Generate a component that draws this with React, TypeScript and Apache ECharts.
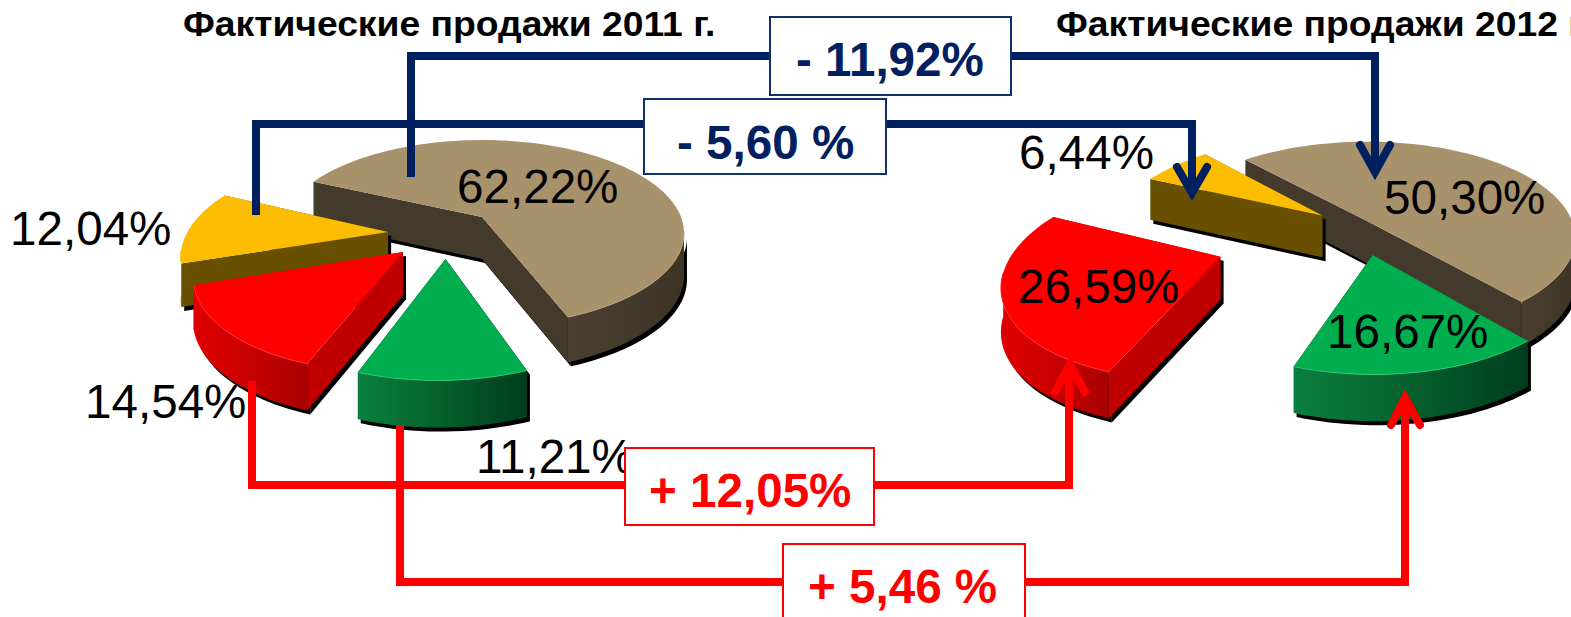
import React, { useEffect, useRef } from "react";
import * as echarts from "echarts";

const sliceNames = ["Бежевый", "Зелёный", "Красный", "Жёлтый"];
const values2011 = [62.22, 11.21, 14.54, 12.04];
const values2012 = [50.3, 16.67, 26.59, 6.44];
const titles = ["Фактические продажи 2011 г.", "Фактические продажи 2012 г."];
const deltaLabels = ["- 11,92%", "- 5,60 %", "+ 12,05%", "+ 5,46 %"];

const FONT = '"Liberation Sans", Arial, sans-serif';
const NAVY = "#002060";
const RED = "#ff0000";

const palette = [
  { top: "#a8926c", rim: "#b8a27c", side: "#443a2c", wall: ["#4a3f30", "#443a2c", "#3e3426"] },
  { top: "#00ae4f", rim: "#2cc873", side: "#004a26", wall: ["#0a7f40", "#05602c", "#003d1e"] },
  { top: "#ff0000", rim: "#ff3030", side: "#c00000", wall: ["#e00000", "#c80000", "#a80000"] },
  { top: "#fcbd00", rim: "#fcc000", side: "#695000", wall: ["#6b5200", "#695000", "#655000"] },
];

const DEPTH = 42;
const K = 0.172;

const pieLeft = {
  cx: 482, cy: 217, rx: 199, ry: 90.2, start: -65.2,
  offsets: [[0, 0], [-0.17, 0.431], [-0.372, 0.364], [-0.459, 0.162]],
  rank: [0, 3, 2, 1],
  radius: [1, 0.95, 0.96, 0.98],
};
const pieRight = {
  cx: 1367, cy: 221, rx: 205, ry: 93, start: -42,
  offsets: [[0, 0], [0.026, 0.345], [-0.671, 0.36], [-0.22, -0.06]],
  rank: [0, 2, 3, 1],
  radius: [1, 0.94, 0.96, 1.02],
};

function pieSeries(values: number[], cfg: typeof pieLeft) {
  const total = values.reduce((a, b) => a + b, 0);
  return {
    type: "custom",
    coordinateSystem: "none",
    silent: true,
    data: values.map((v, i) => ({ name: sliceNames[i], value: [v] })),
    renderItem: (params: any, api: any) => {
      const i = params.dataIndex;
      const before = values.slice(0, i).reduce((a, b) => a + b, 0);
      const a0 = cfg.start + (before / total) * 360;
      const a1 = a0 + (api.value(0) / total) * 360;
      const [ox, oz] = cfg.offsets[i];
      const r = cfg.radius[i];
      const col = palette[i];
      const base = cfg.rank[i] * 10;

      const proj = (u: number, v: number, lower = false) => {
        const s = 1 / (1 - K * v);
        return [
          cfg.cx + cfg.rx * u * s,
          cfg.cy + cfg.ry * v * s + (lower ? DEPTH * (0.6 + 0.4 * s) : 0),
        ];
      };
      const at = (deg: number, lower = false) => {
        const t = (deg * Math.PI) / 180;
        return proj(ox + r * Math.sin(t), oz - r * Math.cos(t), lower);
      };
      const apex = proj(ox, oz);
      const apexLow = proj(ox, oz, true);

      const angles: number[] = [];
      for (let d = a0; d < a1; d += 2) angles.push(d);
      angles.push(a1);

      const front = angles.filter((d) => -Math.cos((d * Math.PI) / 180) >= K - 0.02);
      const radialA = [apex, at(a0), at(a0, true), apexLow];
      const radialB = [apex, at(a1), at(a1, true), apexLow];
      const outer = front.length > 1
        ? [...front.map((d) => at(d)), ...front.slice().reverse().map((d) => at(d, true))]
        : null;

      const wall = new echarts.graphic.LinearGradient(0, 0, 1, 0, [
        { offset: 0, color: col.wall[0] },
        { offset: 0.5, color: col.wall[1] },
        { offset: 1, color: col.wall[2] },
      ]);

      const children: any[] = [];
      const shadowFaces = outer ? [radialA, radialB, outer] : [radialA, radialB];
      shadowFaces.forEach((pts) => {
        children.push({
          type: "polygon", x: 3, y: 4, z2: base,
          shape: { points: pts }, style: { fill: "#000000" },
        });
      });
      children.push({ type: "polygon", z2: base + 1, shape: { points: radialA }, style: { fill: col.side } });
      children.push({ type: "polygon", z2: base + 1, shape: { points: radialB }, style: { fill: col.side } });
      if (outer) {
        children.push({ type: "polygon", z2: base + 2, shape: { points: outer }, style: { fill: wall } });
      }
      children.push({
        type: "polygon", z2: base + 3,
        shape: { points: [apex, ...angles.map((d) => at(d))] },
        style: { fill: col.top },
      });
      if (front.length > 1) {
        children.push({
          type: "polyline", z2: base + 4,
          shape: { points: front.map((d) => at(d)) },
          style: { fill: "none", stroke: col.rim, lineWidth: 1 },
        });
      }
      return { type: "group", children };
    },
  };
}

const pct = (v: number) => v.toFixed(2).replace(".", ",") + "%";

function buildGraphic() {
  const g: any[] = [];
  const label = (text: string, x: number, y: number) =>
    g.push({
      type: "text", z: 10, x, y,
      style: { text, fill: "#000", font: `47.6px ${FONT}`, textAlign: "left", textVerticalAlign: "middle" },
    });
  label(pct(values2011[0]), 457, 186);
  label(pct(values2011[3]), 10, 228);
  label(pct(values2011[2]), 85, 401);
  label(pct(values2011[1]), 476, 456);
  label(pct(values2012[3]), 1019, 152);
  label(pct(values2012[0]), 1384, 197);
  label(pct(values2012[2]), 1018, 286);
  label(pct(values2012[1]), 1327, 331);

  titles.forEach((text, i) =>
    g.push({
      type: "text", z: 11, x: i === 0 ? 183 : 1056, y: 24, scaleX: 1.05,
      style: { text, fill: "#000", font: `bold 35.5px ${FONT}`, textAlign: "left", textVerticalAlign: "middle" },
    })
  );

  const line = (points: number[][], stroke: string, lineWidth = 8, cap: string = "butt") =>
    g.push({
      type: "polyline", z: 12, shape: { points },
      style: { fill: "none", stroke, lineWidth, lineCap: cap, lineJoin: "miter" },
    });
  // navy connectors
  line([[411, 177], [411, 56], [1375, 56], [1375, 172]], NAVY);
  line([[256, 215], [256, 124], [1192, 124], [1192, 194]], NAVY);
  line([[1360, 145], [1375, 172], [1390, 145]], NAVY, 8, "round");
  line([[1177, 167], [1192, 193], [1207, 167]], NAVY, 8, "round");
  // red connectors
  line([[252, 381], [252, 485], [1069, 485], [1069, 365]], RED);
  line([[400, 425], [400, 582], [1405, 582], [1405, 398]], RED);
  line([[1055, 392], [1070, 364], [1085, 392]], RED, 8, "round");
  line([[1391, 425], [1405, 398], [1420, 425]], RED, 8, "round");

  const box = (x0: number, y0: number, x1: number, y1: number, text: string, tx: number, ty: number, color: string, border: string) => {
    g.push({
      type: "rect", z: 13, shape: { x: x0, y: y0, width: x1 - x0, height: y1 - y0 },
      style: { fill: "#fff", stroke: border, lineWidth: 2 },
    });
    g.push({
      type: "text", z: 14, x: tx, y: ty,
      style: { text, fill: color, font: `bold 47.6px ${FONT}`, textAlign: "left", textVerticalAlign: "middle" },
    });
  };
  box(770, 17, 1011, 95, deltaLabels[0], 796, 59, NAVY, "#0f2f6e");
  box(644, 99, 886, 174, deltaLabels[1], 677, 142, NAVY, "#0f2f6e");
  box(625, 448, 874, 525, deltaLabels[2], 649, 490, RED, RED);
  box(783, 544, 1025, 640, deltaLabels[3], 808, 586, RED, RED);
  return g;
}

export default function App() {
  const ref = useRef<HTMLDivElement>(null);
  useEffect(() => {
    document.body.style.margin = "0";
    document.body.style.overflow = "hidden";
    const chart = echarts.init(ref.current!, null, { renderer: "svg" });
    chart.setOption({
      animation: false,
      backgroundColor: "#ffffff",
      series: [pieSeries(values2011, pieLeft), pieSeries(values2012, pieRight)],
      graphic: { elements: buildGraphic() },
    });
    return () => chart.dispose();
  }, []);
  return <div ref={ref} style={{ position: "absolute", left: 0, top: 0, width: 1571, height: 617 }} />;
}
